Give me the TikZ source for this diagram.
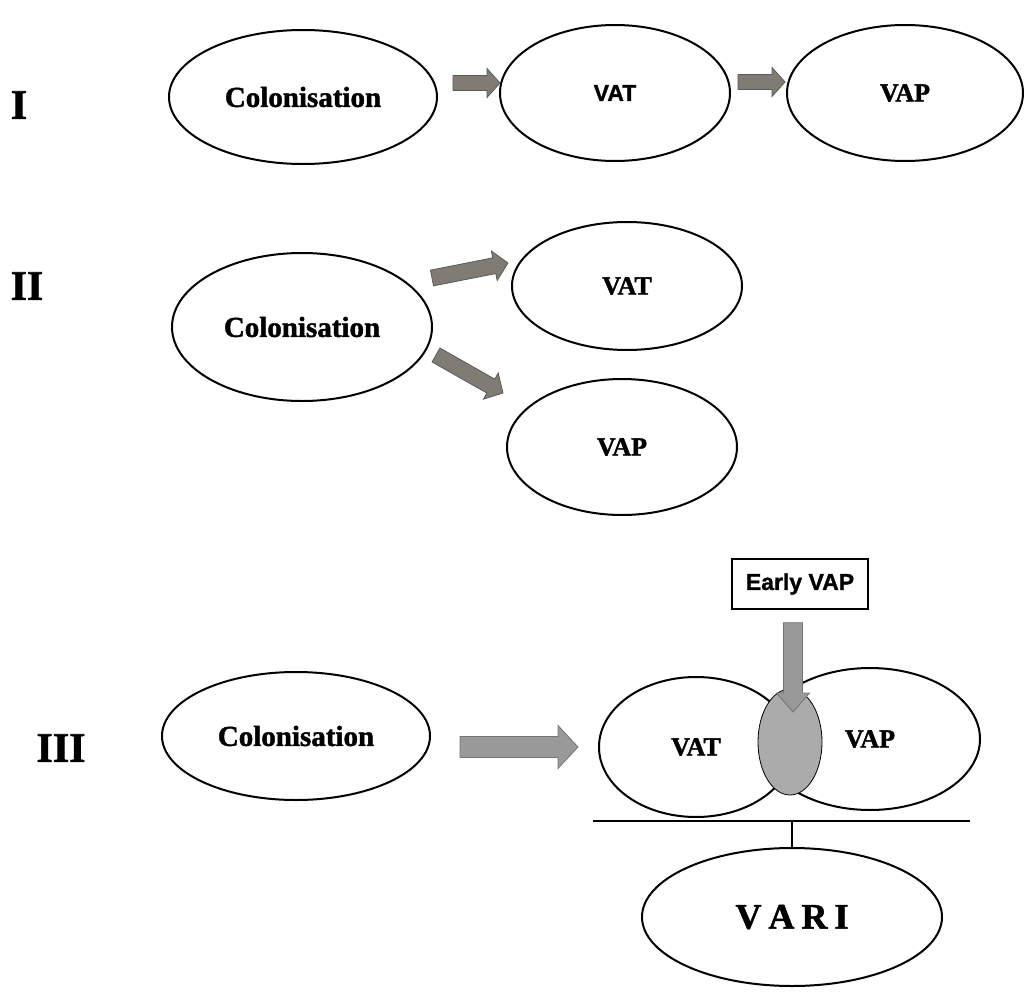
\documentclass[tikz,border=0pt]{standalone}
\usepackage{fontspec}
\setmainfont[BoldFeatures={FakeBold=1.5}]{Liberation Serif}
\newfontfamily\sansfam[BoldFeatures={FakeBold=1.2}]{Liberation Sans}
\usetikzlibrary{calc,shapes.geometric}
\definecolor{arrgrey}{RGB}{128,124,116}

% block arrow from #2 to #3: shaft half width #4, head half width #5, head length #6
\newcommand{\blockarr}[6][fatarr]{%
  \coordinate (bh) at ($(#3)!#6!(#2)$);
  \filldraw[#1] ($(#2)!#4!90:(#3)$) -- ($(bh)!#4!-90:(#2)$) -- ($(bh)!#5!-90:(#2)$)
    -- (#3) -- ($(bh)!#5!90:(#2)$) -- ($(bh)!#4!90:(#2)$) -- ($(#2)!#4!-90:(#3)$) -- cycle;
}

\begin{document}
\begin{tikzpicture}[x=1pt, y=-1pt,
  oval/.style={draw, ellipse, line width=2pt, inner sep=0pt, font=\bfseries\fontsize{26}{28}\selectfont},
  colbox/.style={oval, font=\bfseries\fontsize{29}{31}\selectfont},
  numlabel/.style={font=\bfseries\fontsize{42}{44}\selectfont},
  fatarr/.style={fill=arrgrey, draw=black!65, line width=0.8pt, line join=miter},
  greyarr/.style={fill=black!40, draw=black!55, line width=0.8pt, line join=miter}
]
\useasboundingbox (0,0) rectangle (1026,1001);

% Row I
\node[numlabel] at (19, 105) (numA) {I};
\node[colbox, minimum width=268, minimum height=134] at (303, 97) (colA) {Colonisation};
\node[oval, minimum width=230, minimum height=136, font=\sansfam\bfseries\fontsize{23}{25}\selectfont] at (615, 93) (vatA) {VAT};
\node[oval, minimum width=236, minimum height=136] at (905, 93) (vapA) {VAP};
\coordinate (a1s) at (453, 83);  \coordinate (a1e) at (500, 83);
\coordinate (a2s) at (738, 82);  \coordinate (a2e) at (785, 82);
\blockarr{a1s}{a1e}{7.5pt}{14.5pt}{13pt}
\blockarr{a2s}{a2e}{7.5pt}{14.5pt}{13pt}

% Row II
\node[numlabel] at (27, 286) (numB) {II};
\node[colbox, minimum width=260, minimum height=148] at (302, 327) (colB) {Colonisation};
\node[oval, minimum width=230, minimum height=128] at (627, 286) (vatB) {VAT};
\node[oval, minimum width=230, minimum height=136] at (622, 447) (vapB) {VAP};
\coordinate (b1s) at (432, 278); \coordinate (b1e) at (508, 263);
\coordinate (b2s) at (436, 355); \coordinate (b2e) at (503, 393);
\blockarr{b1s}{b1e}{8pt}{15pt}{14pt}
\blockarr{b2s}{b2e}{8pt}{15pt}{14pt}

% Row III
\node[numlabel] at (61, 748) (numC) {III};
\node[colbox, minimum width=268, minimum height=128] at (296, 736) (colC) {Colonisation};
\coordinate (c1s) at (460, 747); \coordinate (c1e) at (578, 747);
\blockarr[greyarr]{c1s}{c1e}{10.5pt}{21.5pt}{20pt}
\node[oval, minimum width=194, minimum height=140] at (696, 747) (vatC) {VAT};
\node[oval, minimum width=220, minimum height=142] at (870, 739) (vapC) {VAP};
\node[draw, ellipse, line width=0.8pt, fill=black!33, minimum width=64, minimum height=106] at (790, 742) (early) {};
\node[draw, line width=1.4pt, minimum width=136, minimum height=50, inner sep=0pt,
      font=\sansfam\bfseries\fontsize{23}{25}\selectfont] at (800, 584) (ebox) {Early VAP};
\coordinate (etip) at (793, 712);
\coordinate (etail) at ([yshift=-13pt]ebox.south -| etip);
\blockarr[greyarr]{etail}{etip}{9.5pt}{16.5pt}{19pt}

% VARI
\coordinate (barL) at (593, 821); \coordinate (barR) at (970, 821);
\draw[line width=2.6pt] (barL) -- (barR);
\node[oval, minimum width=300, minimum height=138, font=\bfseries\fontsize{36}{38}\selectfont] at (792, 917) (vari) {V\hspace{7pt}A\hspace{7pt}R\hspace{7pt}I};
\draw[line width=2.2pt] (vari.north) -- (vari.north |- barL);

\end{tikzpicture}
\end{document}
